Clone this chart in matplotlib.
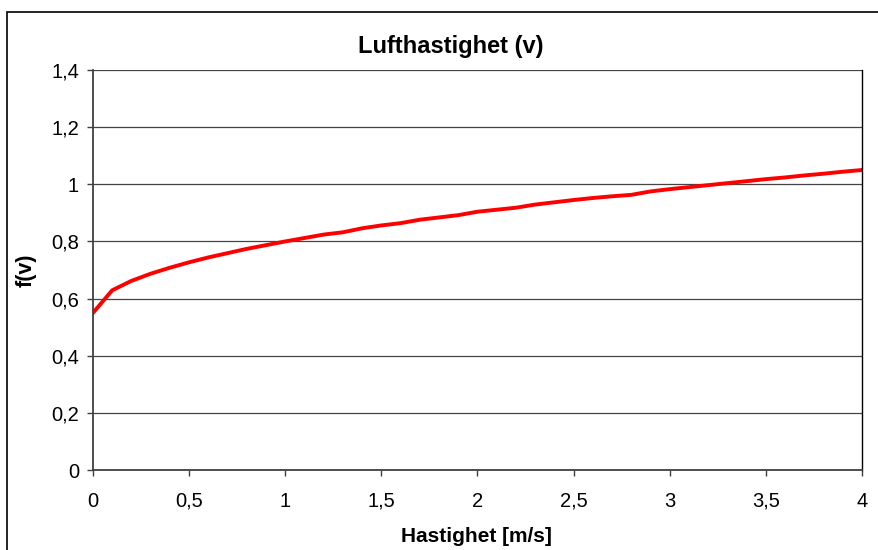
import matplotlib
matplotlib.use("Agg")
import matplotlib.pyplot as plt
from matplotlib.patches import Rectangle
from matplotlib.ticker import FuncFormatter

plt.rcParams['font.family'] = ['Liberation Sans', 'DejaVu Sans']

# Air speed [m/s] and factor f(v)
speed = [0.0, 0.1, 0.2, 0.3, 0.4, 0.5, 0.6, 0.7, 0.8, 0.9,
         1.0, 1.1, 1.2, 1.3, 1.4, 1.5, 1.6, 1.7, 1.8, 1.9,
         2.0, 2.1, 2.2, 2.3, 2.4, 2.5, 2.6, 2.7, 2.8, 2.9,
         3.0, 3.1, 3.2, 3.3, 3.4, 3.5, 3.6, 3.7, 3.8, 3.9, 4.0]
factor = [0.550, 0.629, 0.662, 0.687, 0.708, 0.727, 0.744, 0.759, 0.774, 0.787,
          0.800, 0.812, 0.824, 0.832, 0.846, 0.856, 0.864, 0.876, 0.884, 0.892,
          0.904, 0.911, 0.918, 0.929, 0.937, 0.945, 0.952, 0.958, 0.963, 0.975,
          0.983, 0.990, 0.997, 1.004, 1.011, 1.018, 1.024, 1.031, 1.037, 1.044, 1.050]

x_ticks = [0, 0.5, 1, 1.5, 2, 2.5, 3, 3.5, 4]
y_ticks = [0, 0.2, 0.4, 0.6, 0.8, 1.0, 1.2, 1.4]


def comma(val, pos):
    s = "%g" % round(val, 2)
    return s.replace(".", ",")


W, H = 879, 550
fig = plt.figure(figsize=(W / 100, H / 100), dpi=100)
ax = fig.add_axes([93 / W, 1 - 470 / H, (862 - 93) / W, 400 / H])

# chart area border (cut off on the right and bottom)
fig.patches.append(Rectangle((7 / W, -0.1), 1.2, 1.1 - 12 / H,
                             transform=fig.transFigure, fill=False,
                             edgecolor='black', lw=1.2))

ax.plot(speed, factor, color='#ff0000', lw=2.8, solid_joinstyle='round')

ax.set_xlim(0, 4)
ax.set_ylim(0, 1.4)
ax.set_xticks(x_ticks)
ax.set_yticks(y_ticks)
ax.xaxis.set_major_formatter(FuncFormatter(comma))
ax.yaxis.set_major_formatter(FuncFormatter(comma))

ax.grid(axis='y', color='#444444', lw=0.9)
ax.set_axisbelow(True)
ax.spines['top'].set_visible(False)
ax.spines['left'].set_color('#404040')
ax.spines['bottom'].set_color('#404040')
ax.spines['left'].set_linewidth(1.3)
ax.spines['bottom'].set_linewidth(1.3)
ax.spines['right'].set_color('black')
ax.spines['right'].set_linewidth(1.0)

ax.tick_params(direction='out', length=4.5, width=1, color='#404040',
               labelsize=14.5)
ax.tick_params(axis='y', pad=5.5)
ax.tick_params(axis='x', pad=11)

fig.text(450.5 / W, 1 - 53 / H, "Lufthastighet (v)", fontsize=17,
         fontweight='bold', ha='center', va='baseline')
fig.text(476.5 / W, 1 - 542 / H, "Hastighet [m/s]", fontsize=15,
         fontweight='bold', ha='center', va='baseline')
fig.text(26 / W, 1 - 270 / H, "f(v)", fontsize=15.5, fontweight='bold',
         rotation=90, ha='center', va='center')

fig.savefig("out.png", dpi=100)
